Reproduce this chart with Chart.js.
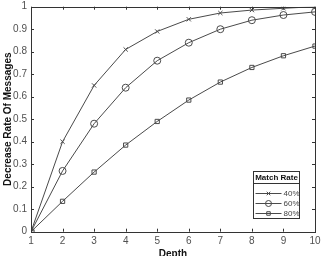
<!DOCTYPE html>
<html><head><meta charset="utf-8">
<script src="https://cdn.jsdelivr.net/npm/chart.js@4/dist/chart.umd.min.js"></script>
<style>html,body{margin:0;padding:0;background:#fff;}#w{width:321px;height:256px;}</style>
</head><body><div id="w"><canvas id="c"></canvas></div>
<script>
const depths = [1,2,3,4,5,6,7,8,9,10];
const rate40 = [0,0.40,0.65,0.81,0.89,0.944,0.972,0.985,0.993,1.0];
const rate60 = [0,0.27,0.48,0.64,0.76,0.84,0.90,0.94,0.963,0.977];
const rate80 = [0,0.135,0.265,0.385,0.49,0.585,0.665,0.73,0.782,0.825];
const seriesLabels = ['40%','60%','80%'];
const legendTitle = 'Match Rate';
const yTicks = [0,0.1,0.2,0.3,0.4,0.5,0.6,0.7,0.8,0.9,1];
const xTitle = 'Depth';
const yTitle = 'Decrease Rate Of Messages';

const lineCol = '#4a4a4a';
const font = 'Liberation Sans, Arial, sans-serif';
function ds(label, data, style, r){
  return {label, data: data.map((v,i)=>({x:depths[i],y:v})), borderColor:lineCol, borderWidth:1,
    pointStyle:style, pointRadius:r, pointBorderColor:lineCol, pointBackgroundColor:'rgba(0,0,0,0)',
    pointBorderWidth:1, tension:0, fill:false};
}
const boxPlugin = {
  id:'box',
  afterDraw(chart){
    const {ctx, chartArea:a, scales:{x,y}} = chart;
    ctx.save();
    ctx.strokeStyle = '#333'; ctx.lineWidth = 1;
    ctx.strokeRect(Math.round(a.left)+0.5, Math.round(a.top)+0.5, Math.round(a.right-a.left), Math.round(a.bottom-a.top));
    ctx.beginPath();
    depths.forEach(d=>{ const px = Math.round(x.getPixelForValue(d))+0.5;
      ctx.moveTo(px,a.bottom); ctx.lineTo(px,a.bottom-3);
      ctx.moveTo(px,a.top); ctx.lineTo(px,a.top+3); });
    yTicks.forEach(t=>{ const py = Math.round(y.getPixelForValue(t))+0.5;
      ctx.moveTo(a.left,py); ctx.lineTo(a.left+3,py);
      ctx.moveTo(a.right,py); ctx.lineTo(a.right-3,py); });
    ctx.stroke();
    // legend
    const lx=253.5, ly=171.5, lw=46, lh=47;
    ctx.fillStyle='#fff'; ctx.fillRect(lx,ly,lw,lh);
    ctx.strokeStyle='#333'; ctx.strokeRect(lx,ly,lw,lh);
    ctx.beginPath(); ctx.moveTo(lx,ly+12); ctx.lineTo(lx+lw,ly+12); ctx.stroke();
    ctx.fillStyle='#111'; ctx.font='bold 8px '+font; ctx.textAlign='center'; ctx.textBaseline='middle';
    ctx.fillText(legendTitle, lx+lw/2, ly+6.5);
    ctx.textAlign='left';
    chart.data.datasets.forEach((d,i)=>{
      const yy = Math.round(ly+21+i*10)+0.5;
      ctx.strokeStyle=lineCol; ctx.beginPath(); ctx.moveTo(lx+2,yy); ctx.lineTo(lx+28,yy); ctx.stroke();
      ctx.fillStyle='rgba(0,0,0,0)';
      Chart.helpers.drawPoint(ctx,{pointStyle:d.pointStyle, radius:d.pointRadius-0.5, borderWidth:1}, lx+15, yy);
      ctx.font='8px '+font; ctx.fillStyle='#444';
      ctx.fillText(d.label, lx+30, yy+0.5);
    });
    ctx.restore();
  }
};
new Chart(document.getElementById('c'), {
  type:'line',
  data:{ datasets:[ ds(seriesLabels[0],rate40,'crossRot',3), ds(seriesLabels[1],rate60,'circle',3.5), ds(seriesLabels[2],rate80,'rect',3) ]},
  options:{
    responsive:true, maintainAspectRatio:false, animation:false,
    layout:{padding:{top:6.7, right:6, left:0, bottom:-4}},
    plugins:{legend:{display:false}, tooltip:{enabled:false}},
    scales:{
      x:{type:'linear', min:1, max:10, grid:{display:false, drawTicks:false}, border:{display:false},
        ticks:{stepSize:1, color:'#505050', font:{family:font,size:10}, padding:4, maxRotation:0},
        title:{display:true, text:xTitle, color:'#111', font:{family:font,size:10,weight:'bold'}, padding:{top:0,bottom:0}},
        afterFit(s){ s.height = 28.3; s.paddingLeft = 0; s.paddingRight = 0; }},
      y:{min:0, max:1, grid:{display:false, drawTicks:false}, border:{display:false},
        afterBuildTicks(s){ s.ticks = yTicks.map(v=>({value:v})); },
        ticks:{color:'#505050', font:{family:font,size:10}, padding:4, callback:v=>String(v)},
        title:{display:true, text:yTitle, color:'#111', font:{family:font,size:10,weight:'bold'}, padding:{top:2,bottom:0}},
        afterFit(s){ s.width = 31; s.paddingTop = 0; s.paddingBottom = 0; }}
    }
  },
  plugins:[boxPlugin]
});
</script></body></html>
